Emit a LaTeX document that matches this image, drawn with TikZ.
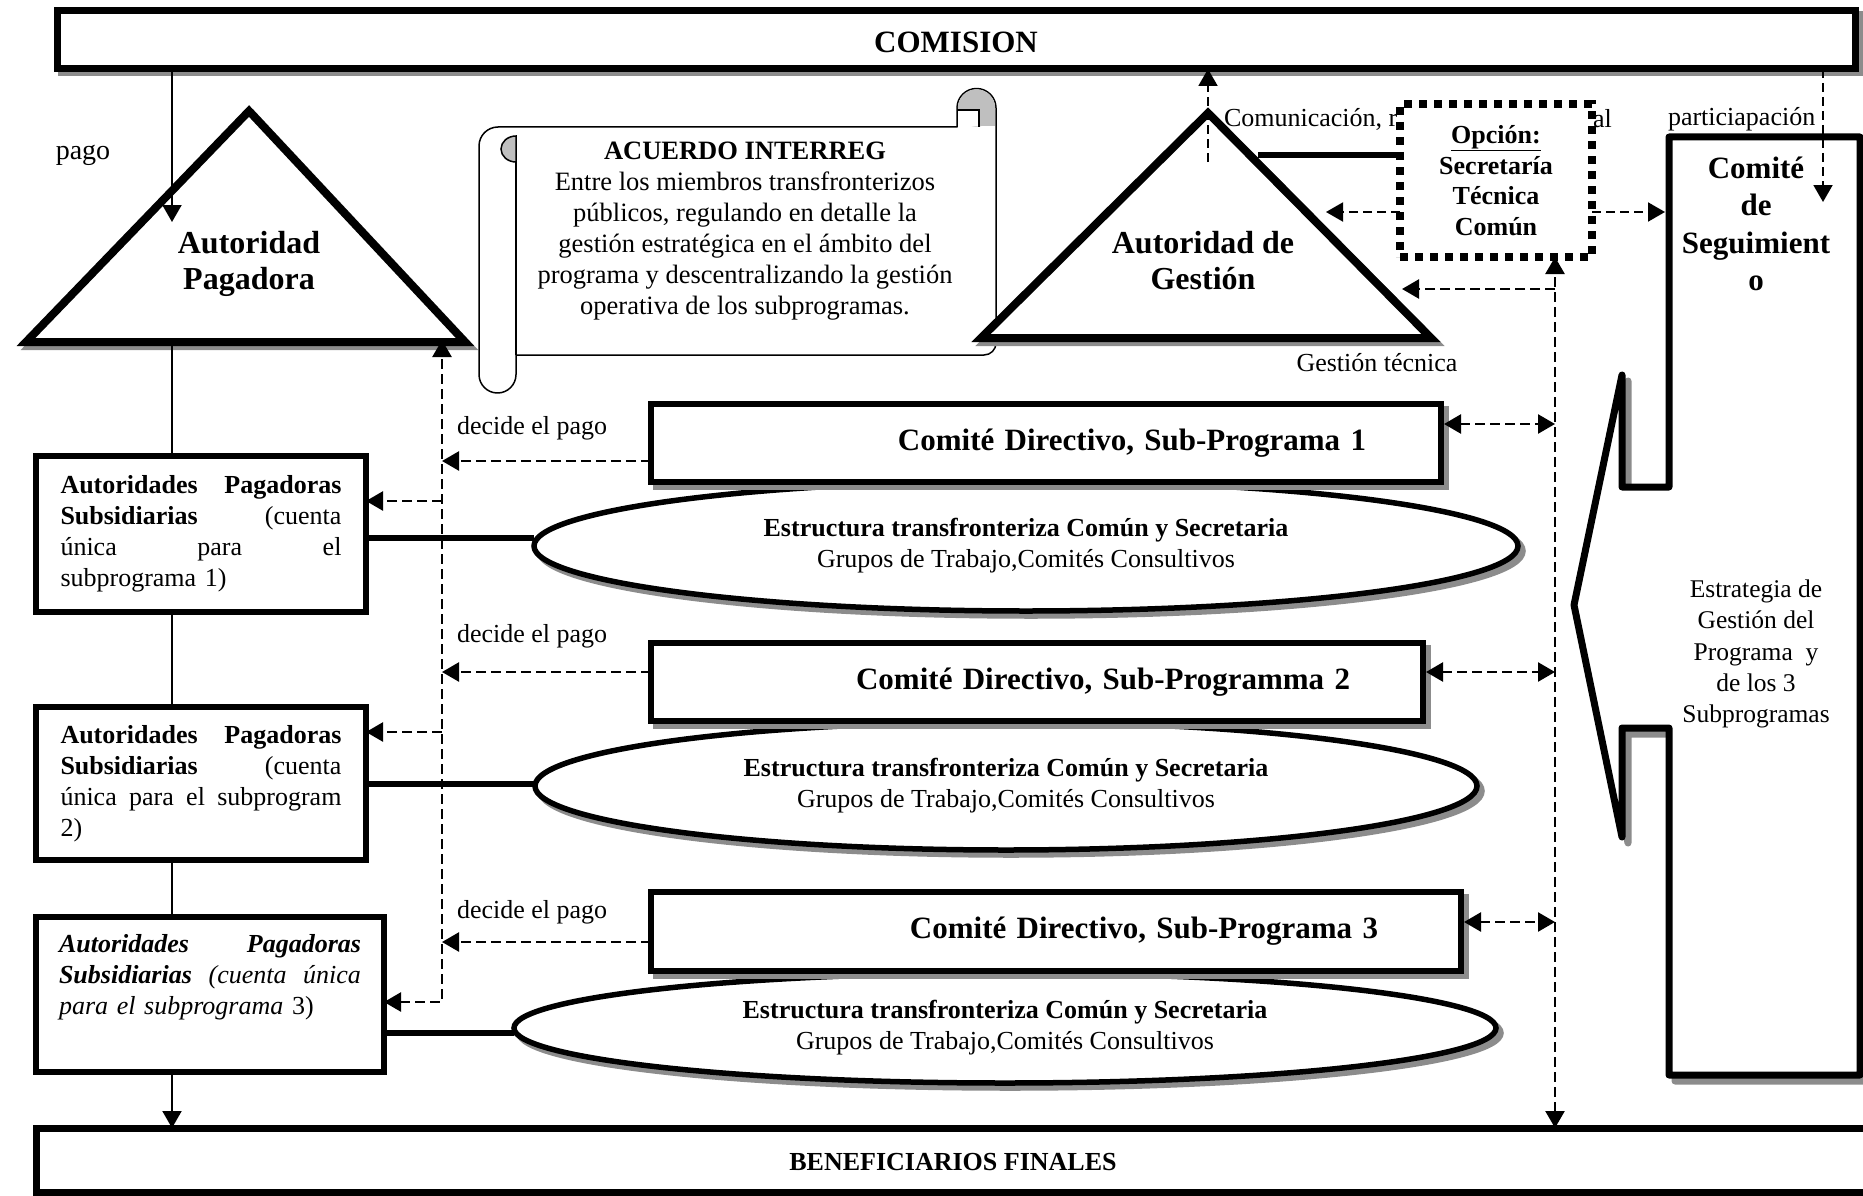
\documentclass[tikz,border=0pt]{standalone}
\usepackage{fontspec}
\setmainfont{Liberation Serif}
\usetikzlibrary{arrows.meta,shapes.geometric}
\begin{document}
\begin{tikzpicture}[x=1pt,y=1pt,
  every node/.style={inner sep=0pt,outer sep=0pt,font=\fontsize{26}{31}\selectfont},
  shd/.style={draw=black!45,fill=black!45},
  bx/.style={draw=black,fill=white,rectangle},
  cdtext/.style={font=\fontsize{31}{37}\selectfont\bfseries},
  dl/.style={line width=2.5pt,dash pattern=on 10pt off 5pt},
  dlt/.style={line width=2pt,dash pattern=on 9pt off 5pt},
  thn/.style={line width=2pt},
  arr/.style={-{Triangle[length=17pt,width=19pt]}},
  arrb/.style={{Triangle[length=17pt,width=19pt]}-{Triangle[length=17pt,width=19pt]}},
]
\useasboundingbox (0,0) rectangle (1863,-1196);
\clip (0,0) rectangle (1863,-1196);

% COMISION
\draw[shd,line width=7pt] (61,-15) rectangle (1859,-73);
\node[bx,line width=7pt,minimum width=1798pt,minimum height=58pt,font=\fontsize{31}{37}\selectfont\bfseries] (com) at (956,-40) {\raisebox{-13pt}[0pt][0pt]{COMISION}};

% Autoridad Pagadora
\draw[shd,line width=8pt] (253,-115) -- (30,-346) -- (469,-346) -- cycle;
\draw[line width=8pt,fill=white] (249,-111) -- (26,-342) -- (465,-342) -- cycle;
\node[font=\fontsize{32}{36}\selectfont\bfseries,align=center] (apt) at (249,-264) {Autoridad\\Pagadora};

% Scroll
\draw[line width=1.5pt,fill=white,line join=round]
  (498,-127) -- (957,-127) -- (957,-108)
  arc[start angle=180,end angle=0,radius=19.5]
  -- (996,-343) arc[start angle=0,end angle=-90,radius=12]
  -- (516,-355) -- (516,-374.5)
  arc[start angle=0,end angle=-180,radius=18.5]
  -- (479,-146) arc[start angle=180,end angle=90,radius=19] -- cycle;
\draw[line width=1.5pt] (516,-355) -- (516,-150);
\draw[line width=1.5pt,fill=black!25] (516,-136) arc[start angle=90,end angle=270,x radius=15,y radius=13] -- cycle;
\fill[black!25] (976.5,-108) circle (18.7);
\fill[black!25] (979,-108) rectangle (995.2,-126.2);
\fill[white] (957.8,-110) rectangle (979,-126.2);
\draw[line width=1.5pt] (957,-110) -- (979,-110) -- (979,-127);
\node[font=\fontsize{26.5}{31}\selectfont,align=center] (acu) at (745,-231) {\textbf{ACUERDO INTERREG}\\Entre los miembros transfronterizos\\públicos, regulando en detalle la\\gestión estratégica en el ámbito del\\programa y descentralizando la gestión\\operativa de los subprogramas.};

% Autoridad de Gestion
\draw[shd,line width=8pt] (1212,-117) -- (985,-342) -- (1435,-342) -- cycle;
\draw[line width=8pt,fill=white] (1208,-113) -- (981,-338) -- (1431,-338) -- cycle;
\node[font=\fontsize{32}{36}\selectfont\bfseries,align=center] (agt) at (1203,-261) {Autoridad de\\Gestión};

% free texts
\node[anchor=west] (comu) at (1224,-119) {Comunicación, r};
\node[anchor=west] (alT) at (1593,-119) {al};
\node[anchor=west] (partiT) at (1668,-119) {particiapación};
\node (gtec) at (1377,-363) {Gestión técnica};
\node[font=\fontsize{28}{33}\selectfont] (pago) at (83,-155) {pago};

% Comite de Seguimiento
\begin{scope}[shift={(6,-6)}]
\draw[shd,line width=7pt,line join=round] (1669,-137) -- (1860,-137) -- (1860,-1075) -- (1669,-1075) -- (1669,-728) -- (1622,-728) -- (1622,-837) -- (1574,-605) -- (1622,-375) -- (1622,-487) -- (1669,-487) -- cycle;
\end{scope}
\draw[line width=7pt,fill=white,line join=round] (1669,-137) -- (1860,-137) -- (1860,-1075) -- (1669,-1075) -- (1669,-728) -- (1622,-728) -- (1622,-837) -- (1574,-605) -- (1622,-375) -- (1622,-487) -- (1669,-487) -- cycle;
\node[font=\fontsize{31}{37.3}\selectfont\bfseries,align=center] (cst) at (1756,-224) {Comité\\de\\Seguimient\\o};
\node[font=\fontsize{25.5}{31.2}\selectfont,align=center] (est) at (1756,-654) {Estrategia de\\Gestión del\\Programa~ y\\de los 3\\Subprogramas};

% Secretaria
\node[draw,fill=white,line width=8pt,dash pattern=on 8pt off 7pt,minimum width=192pt,minimum height=153pt,align=center,font=\fontsize{26}{30.7}\selectfont\bfseries] (sec) at (1496,-180.5) {\underline{Opción:}\\Secretaría\\Técnica\\Común};

% Ellipses
\draw[shd,line width=5.5pt] (1031,-551) ellipse [x radius=492,y radius=65];
\node[draw,fill=white,ellipse,line width=5.5pt,minimum width=984pt,minimum height=130pt,align=center] (e1) at (1026,-546) {\textbf{Estructura transfronteriza Común y Secretaria}\\Grupos de Trabajo,Comités Consultivos};
\draw[shd,line width=5.5pt] (1011,-791) ellipse [x radius=471,y radius=64];
\node[draw,fill=white,ellipse,line width=5.5pt,minimum width=942pt,minimum height=128pt,align=center] (e2) at (1006,-786) {\textbf{Estructura transfronteriza Común y Secretaria}\\Grupos de Trabajo,Comités Consultivos};
\draw[shd,line width=5.5pt] (1010,-1033) ellipse [x radius=491,y radius=55];
\node[draw,fill=white,ellipse,line width=5.5pt,minimum width=982pt,minimum height=110pt,align=center] (e3) at (1005,-1028) {\textbf{Estructura transfronteriza Común y Secretaria}\\Grupos de Trabajo,Comités Consultivos};

% Comite Directivo boxes
\draw[shd,line width=6pt] (656,-409) rectangle (1446,-487);
\node[bx,line width=6pt,minimum height=78pt,text width=640pt,inner xsep=75pt,align=right,cdtext] (cd1) at (1046,-443) {Comité Directivo, Sub-Programa 1};
\draw[shd,line width=6pt] (656,-648) rectangle (1428,-726);
\node[bx,line width=6pt,minimum height=78pt,text width=626pt,inner xsep=73pt,align=right,cdtext] (cd2) at (1037,-682) {Comité Directivo, Sub-Programma 2};
\draw[shd,line width=6pt] (656,-897) rectangle (1466,-976);
\node[bx,line width=6pt,minimum height=79pt,text width=644pt,inner xsep=83pt,align=right,cdtext] (cd3) at (1056,-931.5) {Comité Directivo, Sub-Programa 3};

% Autoridades Pagadoras Subsidiarias
\node[bx,line width=5.5pt,minimum height=156pt,text width=281pt,inner xsep=24.5pt,align=left] (a1) at (201,-534) {\textbf{Autoridades}\hfill\textbf{Pagadoras}\\\textbf{Subsidiarias}\hfill(cuenta\\única\hfill para\hfill el\\subprograma 1)};
\node[bx,line width=5.5pt,minimum height=153pt,text width=281pt,inner xsep=24.5pt,align=left] (a2) at (201,-783.5) {\textbf{Autoridades}\hfill\textbf{Pagadoras}\\\textbf{Subsidiarias}\hfill(cuenta\\única\hfill para\hfill el\hfill subprogram\\2)};
\node[bx,line width=5.5pt,minimum height=155pt,text width=302pt,inner xsep=23pt,align=left] (a3) at (210,-994.5) {\textbf{\textit{Autoridades}}\hfill\textbf{\textit{Pagadoras}}\\\textbf{\textit{Subsidiarias}}\hfill\textit{(cuenta}\hfill\textit{única}\\\textit{para el subprograma} 3)\\\strut};

% Beneficiarios
\node[bx,line width=7pt,minimum width=1834pt,minimum height=64pt,font=\fontsize{26}{31}\selectfont\bfseries] (ben) at (953,-1160) {\raisebox{-10pt}[0pt][0pt]{BENEFICIARIOS FINALES}};

% decide el pago labels
\node[anchor=west] (dp1) at (457,-428) {decide el pago};
\node[anchor=west] (dp2) at (457,-636) {decide el pago};
\node[anchor=west] (dp3) at (457,-912) {decide el pago};

% coordinates
\coordinate (apIn) at (172,-222);
\coordinate (apBase) at (172,-346);
\coordinate (dvTop) at (442,-340);
\coordinate (dvBot) at (442,-1002);
\coordinate (rv) at (1555,0);
\coordinate (gUp) at (1208,-162);
\coordinate (gLine) at (1258,-155);
\coordinate (gSide1) at (1326,-212);
\coordinate (gSide2) at (1402,-289);
\coordinate (rvG) at (1555,-289);
\coordinate (parti) at (1823,-202);
\coordinate (csEdge) at (1665,-212);

% solid connectors
\draw[thn,arr] (com.south -| apIn) -- (apIn);
\draw[thn] (apBase) -- (apBase |- a1.north);
\draw[thn] (apBase |- a1.south) -- (apBase |- a2.north);
\draw[thn] (apBase |- a2.south) -- (apBase |- a3.north);
\draw[thn,arr] (apBase |- a3.south) -- (apBase |- ben.north);
\draw[line width=5.5pt] (a1.east |- 0,-538) -- (e1.west |- 0,-538);
\draw[line width=5.5pt] (a2.east |- 0,-784) -- (e2.west |- 0,-784);
\draw[line width=5.5pt] (a3.east |- 0,-1033) -- (e3.west |- 0,-1033);
\draw[line width=6pt] (gLine) -- (sec.west |- gLine);

% dashed connectors left
\draw[dl,arrb] (a3.east |- dvBot) -- (dvBot) -- (dvTop);
\draw[dl,arr] (dvTop |- 0,-501) -- (a1.east |- 0,-501);
\draw[dl,arr] (dvTop |- 0,-732) -- (a2.east |- 0,-732);
\draw[dl,arr] (cd1.west |- 0,-461) -- (dvTop |- 0,-461);
\draw[dl,arr] (cd2.west |- 0,-672) -- (dvTop |- 0,-672);
\draw[dl,arr] (cd3.west |- 0,-942) -- (dvTop |- 0,-942);

% dashed connectors right
\draw[dl,arrb] (ben.north -| rv) -- (sec.south -| rv);
\draw[dl,arrb,shorten <=3pt] (cd1.east |- 0,-424) -- (rv |- 0,-424);
\draw[dl,arrb,shorten <=3pt] (cd2.east |- 0,-672) -- (rv |- 0,-672);
\draw[dl,arrb,shorten <=3pt] (cd3.east |- 0,-922) -- (rv |- 0,-922);
\draw[dl,arr] (rvG) -- (gSide2);
\draw[dlt,arr] (sec.west |- gSide1) -- (gSide1);
\draw[dlt,arr] (sec.east |- csEdge) -- (csEdge);
\draw[dlt,arr] (gUp) -- (com.south -| gUp);
\draw[dlt,arr] (com.south -| parti) -- (parti);
\end{tikzpicture}
\end{document}
